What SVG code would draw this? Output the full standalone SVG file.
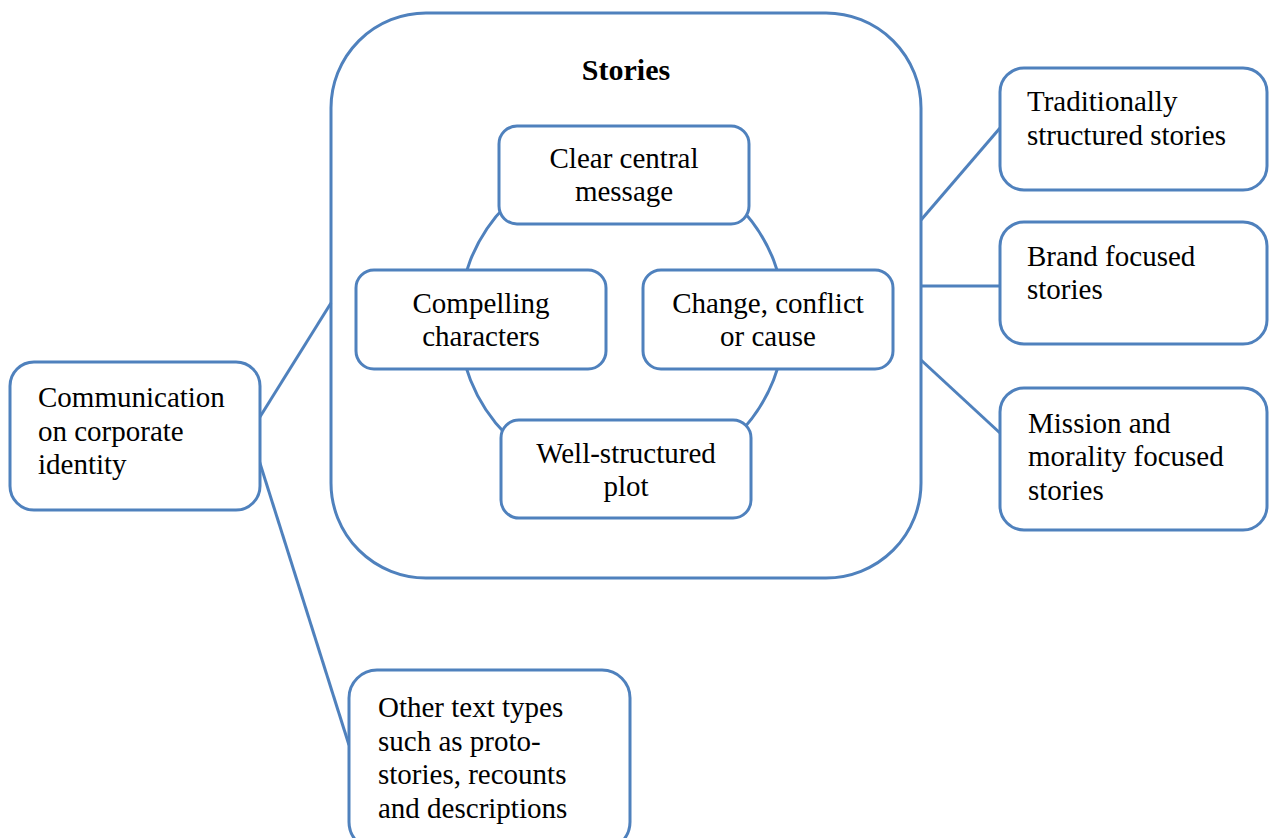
<svg xmlns="http://www.w3.org/2000/svg" width="1269" height="838" viewBox="0 0 1269 838">
<style>
.box{fill:#fff;stroke:#4F81BD;stroke-width:3}
.ln{fill:none;stroke:#4F81BD;stroke-width:3}
text{font-family:"Liberation Serif","Times New Roman",serif;font-size:29px;fill:#000}
.c{text-anchor:middle}
.b{font-weight:bold;font-size:30px}
</style>
<rect width="1269" height="838" fill="#fff"/>
<g id="stories">
<rect class="box" x="331" y="13" width="590" height="565" rx="95" ry="95"/>
<text class="c b" x="626" y="80">Stories</text>
</g>
<g id="connectors">
<circle class="ln" cx="622" cy="320" r="163"/>
<line class="ln" x1="921" y1="220" x2="1000" y2="128"/>
<line class="ln" x1="921" y1="286" x2="1000" y2="286"/>
<line class="ln" x1="921" y1="360" x2="1000" y2="433"/>
<line class="ln" x1="258" y1="420" x2="331" y2="303"/>
<line class="ln" x1="258" y1="457" x2="349" y2="745"/>
</g>
<g id="clear">
<rect class="box" x="499" y="126" width="250" height="98" rx="18"/>
<text class="c" x="624" y="168">Clear central</text>
<text class="c" x="624" y="201">message</text>
</g>
<g id="compelling">
<rect class="box" x="356" y="270" width="250" height="99" rx="18"/>
<text class="c" x="481" y="313">Compelling</text>
<text class="c" x="481" y="346">characters</text>
</g>
<g id="change">
<rect class="box" x="643" y="270" width="250" height="99" rx="18"/>
<text class="c" x="768" y="313">Change, conflict</text>
<text class="c" x="768" y="346">or cause</text>
</g>
<g id="plot">
<rect class="box" x="501" y="420" width="250" height="98" rx="18"/>
<text class="c" x="626" y="463">Well-structured</text>
<text class="c" x="626" y="496">plot</text>
</g>
<g id="communication">
<rect class="box" x="10" y="362" width="250" height="148" rx="24"/>
<text x="38" y="407">Communication</text>
<text x="38" y="441">on corporate</text>
<text x="38" y="474">identity</text>
</g>
<g id="traditional">
<rect class="box" x="1000" y="68" width="267" height="122" rx="24"/>
<text x="1027" y="111">Traditionally</text>
<text x="1027" y="145">structured stories</text>
</g>
<g id="brand">
<rect class="box" x="1000" y="222" width="267" height="122" rx="24"/>
<text x="1027" y="266">Brand focused</text>
<text x="1027" y="299">stories</text>
</g>
<g id="mission">
<rect class="box" x="1000" y="388" width="267" height="142" rx="24"/>
<text x="1028" y="433">Mission and</text>
<text x="1028" y="466">morality focused</text>
<text x="1028" y="500">stories</text>
</g>
<g id="other">
<rect class="box" x="349" y="670" width="281" height="180" rx="28"/>
<text x="378" y="717">Other text types</text>
<text x="378" y="751">such as proto-</text>
<text x="378" y="784">stories, recounts</text>
<text x="378" y="818">and descriptions</text>
</g>
</svg>
